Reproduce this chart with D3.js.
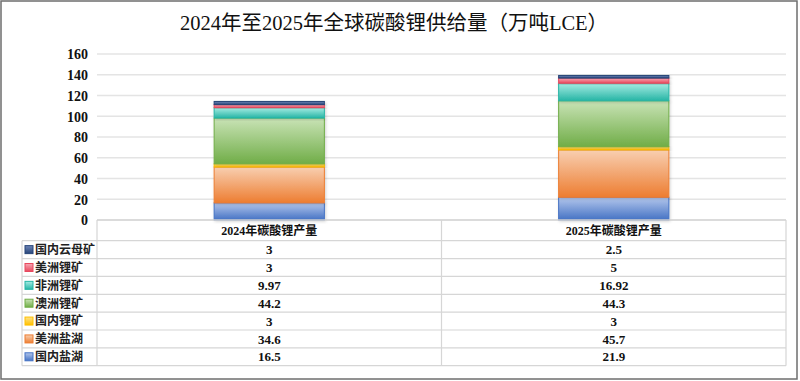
<!DOCTYPE html>
<html><head><meta charset="utf-8">
<script src="https://cdn.jsdelivr.net/npm/d3@7"></script>
<style>body{margin:0;background:#fff}svg{display:block}</style>
</head><body>
<script>
const title = "2024年至2025年全球碳酸锂供给量（万吨LCE）";
const categories = ["2024年碳酸锂产量", "2025年碳酸锂产量"];
const seriesNames = ["国内盐湖", "美洲盐湖", "国内锂矿", "澳洲锂矿", "非洲锂矿", "美洲锂矿", "国内云母矿"];
const v国内盐湖 = [16.5, 21.9];
const v美洲盐湖 = [34.6, 45.7];
const v国内锂矿 = [3, 3];
const v澳洲锂矿 = [44.2, 44.3];
const v非洲锂矿 = [9.97, 16.92];
const v美洲锂矿 = [3, 5];
const v国内云母矿 = [3, 2.5];
const valueLabels = {
  "国内盐湖": ["16.5", "21.9"], "美洲盐湖": ["34.6", "45.7"], "国内锂矿": ["3", "3"],
  "澳洲锂矿": ["44.2", "44.3"], "非洲锂矿": ["9.97", "16.92"], "美洲锂矿": ["3", "5"], "国内云母矿": ["3", "2.5"]
};
const yTicks = [0, 20, 40, 60, 80, 100, 120, 140, 160];
const colors = ["#4472c4", "#ed7d31", "#ffc000", "#70ad47", "#26b5a5", "#e8485e", "#264478"];
const lightColors = ["#b4c7ec", "#f8cfb1", "#ffe38a", "#c9e3b6", "#a6ece3", "#f6a8b3", "#6f86b8"];

const seriesValues = [v国内盐湖, v美洲盐湖, v国内锂矿, v澳洲锂矿, v非洲锂矿, v美洲锂矿, v国内云母矿];
const rows = categories.map((c, i) => {
  const o = {cat: c};
  seriesNames.forEach((s, j) => o[s] = seriesValues[j][i]);
  return o;
});

const W = 800, H = 381;
const svg = d3.select("body").append("svg").attr("width", W).attr("height", H);
const defs = svg.append("defs");
seriesNames.forEach((s, j) => {
  const g = defs.append("linearGradient").attr("id", "g" + j).attr("x1", 0).attr("y1", 0).attr("x2", 0).attr("y2", 1);
  g.append("stop").attr("offset", "0%").attr("stop-color", lightColors[j]);
  g.append("stop").attr("offset", "100%").attr("stop-color", colors[j]);
});
const f = defs.append("filter").attr("id", "sh").attr("x", "-20%").attr("y", "-20%").attr("width", "140%").attr("height", "140%");
f.append("feDropShadow").attr("dx", 1).attr("dy", 1).attr("stdDeviation", 1.5).attr("flood-color", "#000").attr("flood-opacity", 0.18);

svg.append("rect").attr("x", 1).attr("y", 1).attr("width", 796).attr("height", 378)
  .attr("fill", "#fff").attr("stroke", "#6e6e6e").attr("stroke-width", 1.5);

const serif = "'Liberation Serif','Times New Roman','Noto Sans CJK SC',serif";
svg.append("text").attr("x", 394).attr("y", 30).attr("text-anchor", "middle")
  .attr("font-family", serif).attr("font-size", 20.5).attr("fill", "#111").text(title);

const left = 97, right = 786;
const x = d3.scaleBand().domain(categories).range([left, right]).padding(0);
const y = d3.scaleLinear().domain([0, 160]).range([220, 54]);

// gridlines
svg.append("g").selectAll("line").data(yTicks.slice(1)).join("line")
  .attr("x1", left).attr("x2", right).attr("y1", d => y(d)).attr("y2", d => y(d))
  .attr("stroke", "#e4e4e4").attr("stroke-width", 1.5);

// y axis labels
const yAxis = d3.axisLeft(y).tickValues(yTicks).tickSize(0).tickPadding(0).tickFormat(d3.format("d"));
const ya = svg.append("g").attr("transform", "translate(88,0)").call(yAxis);
ya.select(".domain").remove();
ya.selectAll("text").attr("font-family", serif).attr("font-weight", "bold").attr("font-size", 14).attr("fill", "#111").attr("dy", "0.35em");

// bars
const stack = d3.stack().keys(seriesNames)(rows);
const bw = x.bandwidth() * 0.32;
svg.append("g").selectAll("g").data(stack).join("g")
  .attr("fill", (d, i) => `url(#g${i})`).attr("stroke", (d, i) => colors[i]).attr("stroke-width", 1)
  .selectAll("rect").data(d => d).join("rect")
  .attr("x", d => x(d.data.cat) + (x.bandwidth() - bw) / 2)
  .attr("width", bw)
  .attr("y", d => y(d[1]))
  .attr("height", d => y(d[0]) - y(d[1]))
  .attr("filter", "url(#sh)");

// table
const tTop = 220, hdrBottom = 240.7, rowH = 17.86, tLeft = 22;
const tBottom = hdrBottom + rowH * 7;
const tg = svg.append("g").attr("stroke", "#d6d6d6").attr("stroke-width", 1.2);
tg.append("line").attr("x1", left).attr("x2", right).attr("y1", tTop).attr("y2", tTop).attr("stroke", "#cfcfcf").attr("stroke-width", 1.5);
for (let i = 0; i <= 7; i++) {
  const yy = hdrBottom + i * rowH;
  tg.append("line").attr("x1", tLeft).attr("x2", right).attr("y1", yy).attr("y2", yy);
}
tg.append("line").attr("x1", tLeft).attr("x2", tLeft).attr("y1", hdrBottom).attr("y2", tBottom);
[left, ...categories.slice(1).map(c => x(c)), right].forEach(xx => {
  tg.append("line").attr("x1", xx).attr("x2", xx).attr("y1", tTop).attr("y2", tBottom);
});

// header
svg.append("g").selectAll("text").data(categories).join("text")
  .attr("x", d => x(d) + x.bandwidth() / 2).attr("y", (tTop + hdrBottom) / 2).attr("dy", "0.35em")
  .attr("text-anchor", "middle").attr("font-family", serif).attr("font-size", 12).attr("font-weight", "bold").attr("fill", "#111")
  .text(d => d);

const tableOrder = seriesNames.slice().reverse();
tableOrder.forEach((s, r) => {
  const j = seriesNames.indexOf(s);
  const cy = hdrBottom + r * rowH + rowH / 2;
  svg.append("rect").attr("x", 25).attr("y", cy - 4).attr("width", 8).attr("height", 8)
    .attr("fill", `url(#g${j})`).attr("stroke", colors[j]).attr("stroke-width", 1);
  svg.append("text").attr("x", 35).attr("y", cy).attr("dy", "0.36em")
    .attr("font-family", "'Noto Sans CJK SC',sans-serif").attr("font-size", 12).attr("font-weight", "bold").attr("fill", "#222").text(s);
  categories.forEach((c, i) => {
    svg.append("text").attr("x", x(c) + x.bandwidth() / 2).attr("y", cy).attr("dy", "0.36em")
      .attr("text-anchor", "middle").attr("font-family", serif).attr("font-size", 13).attr("font-weight", "bold").attr("fill", "#111")
      .text(valueLabels[s][i]);
  });
});
</script>
</body></html>
